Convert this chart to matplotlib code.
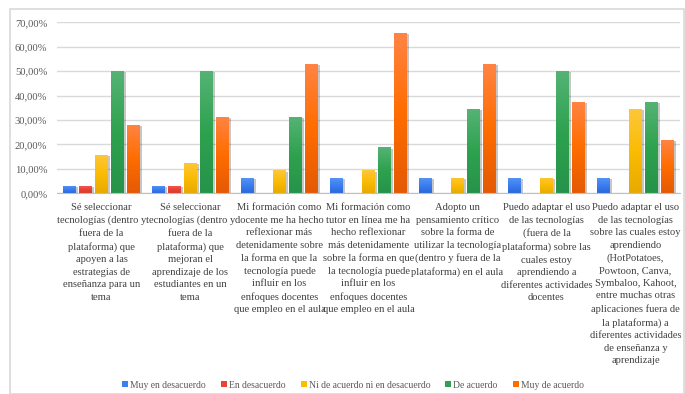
import matplotlib
matplotlib.use("Agg")
import matplotlib.pyplot as plt
import matplotlib.patheffects as pe
import numpy as np
from matplotlib.colors import LinearSegmentedColormap
from matplotlib.patches import Patch, Rectangle
from matplotlib.ticker import FuncFormatter

# Respuestas por enunciado (porcentaje de participantes)
enunciados = [
    "Sé seleccionar\ntecnologías (dentro y\nfuera de la\nplataforma) que\napoyen a las\nestrategias de\nenseñanza para un\ntema",
    "Sé seleccionar\ntecnologías (dentro y\nfuera de la\nplataforma) que\nmejoran el\naprendizaje de los\nestudiantes en un\ntema",
    "Mi formación como\ndocente me ha hecho\nreflexionar más\ndetenidamente sobre\nla forma en que la\ntecnología puede\ninfluir en los\nenfoques docentes\nque empleo en el aula",
    "Mi formación como\ntutor en línea me ha\nhecho reflexionar\nmás detenidamente\nsobre la forma en que\nla tecnología puede\ninfluir en los\nenfoques docentes\nque empleo en el aula",
    "Adopto un\npensamiento crítico\nsobre la forma de\nutilizar la tecnología\n(dentro y fuera de la\nplataforma) en el aula",
    "Puedo adaptar el uso\nde las tecnologías\n(fuera de la\nplataforma) sobre las\ncuales estoy\naprendiendo a\ndiferentes actividades\ndocentes",
    "Puedo adaptar el uso\nde las tecnologías\nsobre las cuales estoy\naprendiendo\n(HotPotatoes,\nPowtoon, Canva,\nSymbaloo, Kahoot,\nentre muchas otras\naplicaciones fuera de\nla plataforma) a\ndiferentes actividades\nde enseñanza y\naprendizaje",
]

niveles = ["Muy en desacuerdo", "En desacuerdo", "Ni de acuerdo ni en desacuerdo",
           "De acuerdo", "Muy de acuerdo"]

muy_en_desacuerdo = [3.125, 3.125, 6.25, 6.25, 6.25, 6.25, 6.25]
en_desacuerdo = [3.125, 3.125, 0, 0, 0, 0, 0]
ni_ni = [15.625, 12.5, 9.375, 9.375, 6.25, 6.25, 34.375]
de_acuerdo = [50, 50, 31.25, 18.75, 34.375, 50, 37.5]
muy_de_acuerdo = [28.125, 31.25, 53.125, 65.625, 53.125, 37.5, 21.875]

series = [muy_en_desacuerdo, en_desacuerdo, ni_ni, de_acuerdo, muy_de_acuerdo]

# color base, tono claro (arriba) y tono oscuro (abajo)
colores = [
    ("#3c7ff0", "#5a95f5", "#2a68dc"),
    ("#ea4335", "#f0605a", "#d93a2c"),
    ("#fbbc04", "#fdc73a", "#e8aa00"),
    ("#2ea24f", "#55b374", "#26934a"),
    ("#ff6d00", "#ff8443", "#e45a05"),
]

plt.rcParams["font.family"] = ["Liberation Serif", "DejaVu Serif"]

fig = plt.figure(figsize=(6.85, 3.94), dpi=100)
ax = fig.add_axes([57 / 685, 1 - 193.3 / 394, 623 / 685, 171 / 394])

# marco exterior del gráfico
fig.patches.append(Rectangle((10 / 685, 0), 674 / 685, 1 - 9 / 394, transform=fig.transFigure,
                             fill=False, edgecolor="#d9d9d9", linewidth=1.2))

x = np.arange(len(enunciados))
ancho = 13 / 89
paso = 16 / 89

for i, (valores, (base, claro, oscuro)) in enumerate(zip(series, colores)):
    pos = x + (i - 2) * paso
    barras = ax.bar(pos, valores, width=ancho, color=base, zorder=3, linewidth=0)
    cmap = LinearSegmentedColormap.from_list("g%d" % i, [oscuro, base, claro])
    for b in barras:
        h = b.get_height()
        if h <= 0:
            continue
        b.set_path_effects([pe.SimplePatchShadow(offset=(1.2, -0.8), shadow_rgbFace="#000000", alpha=0.22),
                            pe.Normal()])
        grad = np.linspace(0, 1, 64).reshape(-1, 1)
        img = ax.imshow(grad, cmap=cmap, origin="lower", aspect="auto", zorder=4,
                        extent=(b.get_x(), b.get_x() + b.get_width(), 0, h))
        img.set_clip_path(b)

ax.set_xlim(-0.5, len(enunciados) - 0.5)
ax.set_ylim(0, 70)
ax.set_yticks(np.arange(0, 71, 10))
ax.yaxis.set_major_formatter(FuncFormatter(lambda v, p: f"{v:.2f}%".replace(".", ",")))
ax.set_xticks(x)
ax.set_xticklabels(enunciados, fontsize=7.6, color="#404040", linespacing=1.5, va="top")
ax.tick_params(axis="x", length=0, pad=7)
ax.tick_params(axis="y", length=0, pad=7, labelsize=7.6, labelcolor="#595959")

ax.grid(axis="y", color="#d9d9d9", linewidth=1, zorder=0)
for lado in ["top", "right", "left"]:
    ax.spines[lado].set_visible(False)
ax.spines["bottom"].set_color("#bfbfbf")
ax.spines["bottom"].set_zorder(5)

manijas = [Patch(facecolor=c[0], edgecolor="none") for c in colores]
fig.legend(manijas, niveles, loc="center", bbox_to_anchor=(353 / 685, 1 - 385 / 394), ncol=5,
           frameon=False, fontsize=6.9, handlelength=0.6, handleheight=0.6, handletextpad=0.2,
           columnspacing=1.6, labelcolor="#595959")

fig.savefig("out.png", dpi=100)
